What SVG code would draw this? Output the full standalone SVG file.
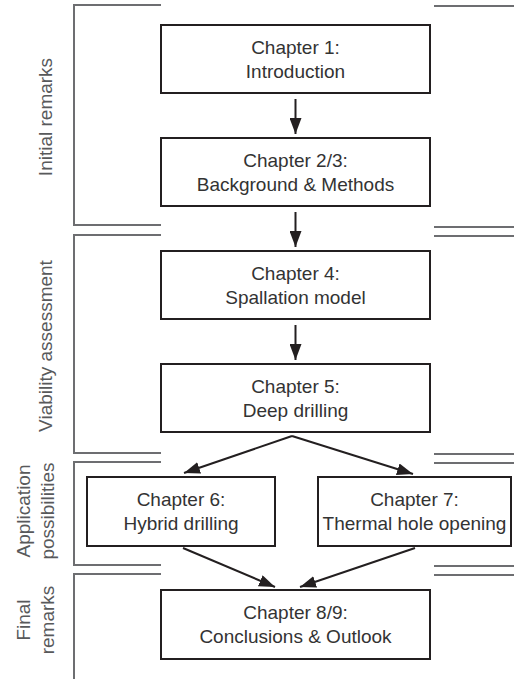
<svg xmlns="http://www.w3.org/2000/svg" width="514" height="679" viewBox="0 0 514 679">
<style>
.box{fill:#fff;stroke:#231f20;stroke-width:2}
.t{font-family:"Liberation Sans",Arial,sans-serif;font-size:19px;fill:#333;text-anchor:middle}
.s{font-family:"Liberation Sans",Arial,sans-serif;font-size:19px;fill:#58595b;text-anchor:middle}
.br{fill:none;stroke:#6d6e71;stroke-width:2}
.c{stroke:#231f20;stroke-width:2;fill:none;marker-end:url(#ah)}
</style>
<defs>
<marker id="ah" viewBox="0 0 16 12" refX="16" refY="6" markerWidth="16" markerHeight="12" markerUnits="userSpaceOnUse" orient="auto"><path d="M0,0 L16,6 L0,12 z" fill="#231f20"/></marker>
</defs>
<g id="brackets">
<path class="br" d="M161,5 H74 V225 H161"/>
<path class="br" d="M161,235 H74 V453 H161"/>
<path class="br" d="M161,462 H74 V565 H161"/>
<path class="br" d="M161,574 H74 V679"/>
<path class="br" d="M434,6 H514 M434,227 H514 M434,236 H514 M434,454 H514 M434,463 H514 M434,566 H514 M434,575 H514"/>
</g>
<g id="labels">
<text class="s" transform="translate(52,117) rotate(-90)">Initial remarks</text>
<text class="s" transform="translate(52,346) rotate(-90)">Viability assessment</text>
<text class="s" transform="translate(30,511) rotate(-90)">Application</text>
<text class="s" transform="translate(54,511) rotate(-90)">possibilities</text>
<text class="s" transform="translate(30,620) rotate(-90)">Final</text>
<text class="s" transform="translate(54,620) rotate(-90)">remarks</text>
</g>
<g id="ch1"><rect class="box" x="161" y="25" width="269" height="68"/><text class="t" x="295.5" y="54">Chapter 1:</text><text class="t" x="295.5" y="78">Introduction</text></g>
<g id="ch23"><rect class="box" x="161" y="138" width="269" height="68"/><text class="t" x="295.5" y="167">Chapter 2/3:</text><text class="t" x="295.5" y="191">Background &amp; Methods</text></g>
<g id="ch4"><rect class="box" x="161" y="251" width="269" height="68"/><text class="t" x="295.5" y="280">Chapter 4:</text><text class="t" x="295.5" y="304">Spallation model</text></g>
<g id="ch5"><rect class="box" x="161" y="364" width="269" height="68"/><text class="t" x="295.5" y="393">Chapter 5:</text><text class="t" x="295.5" y="417">Deep drilling</text></g>
<g id="ch6"><rect class="box" x="87" y="477" width="188" height="69"/><text class="t" x="181" y="506">Chapter 6:</text><text class="t" x="181" y="530">Hybrid drilling</text></g>
<g id="ch7"><rect class="box" x="318" y="477" width="193" height="69"/><text class="t" x="414.5" y="506">Chapter 7:</text><text class="t" x="414.5" y="530">Thermal hole opening</text></g>
<g id="ch89"><rect class="box" x="161" y="590" width="269" height="69"/><text class="t" x="295.5" y="619">Chapter 8/9:</text><text class="t" x="295.5" y="643">Conclusions &amp; Outlook</text></g>
<g id="connectors">
<line class="c" x1="295.5" y1="99" x2="295.5" y2="134"/>
<line class="c" x1="295.5" y1="212" x2="295.5" y2="247"/>
<line class="c" x1="295.5" y1="325" x2="295.5" y2="360"/>
<line class="c" x1="292" y1="436" x2="184" y2="473"/>
<line class="c" x1="292" y1="436" x2="413" y2="474"/>
<line class="c" x1="183" y1="548" x2="275" y2="587"/>
<line class="c" x1="415" y1="548" x2="300" y2="587"/>
</g>
</svg>
